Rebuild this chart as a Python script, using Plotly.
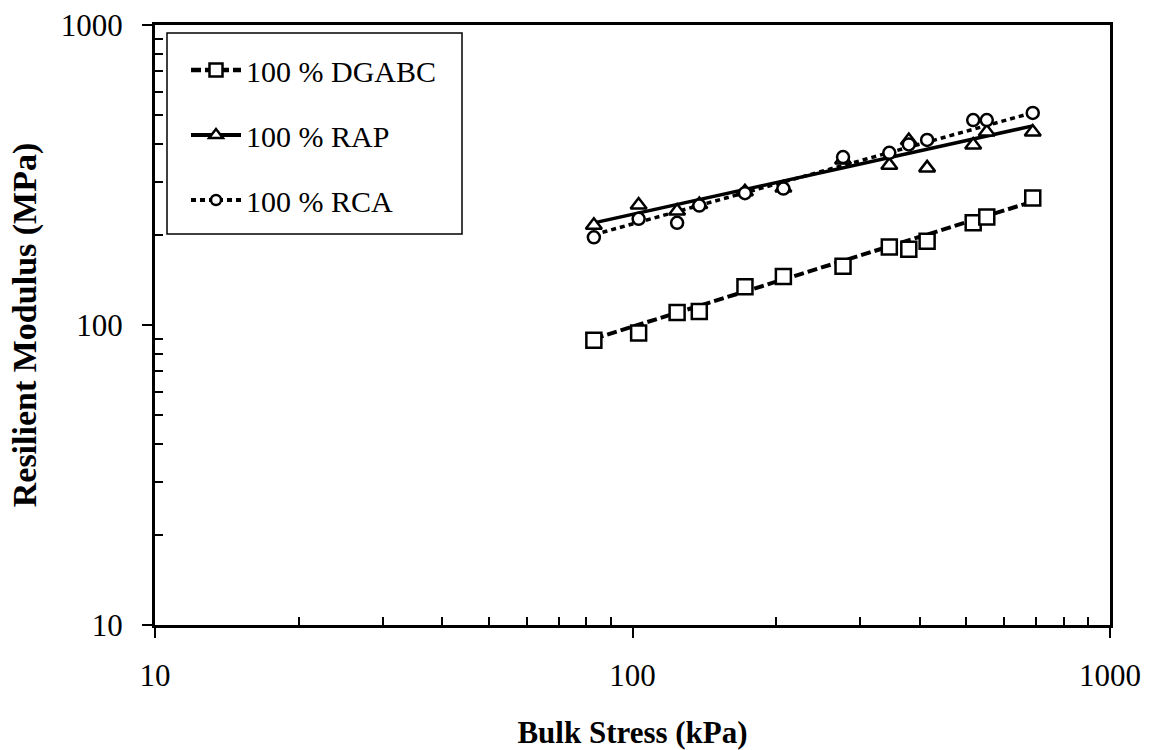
import plotly.graph_objects as go

# Bulk stress (kPa)
bulk_stress = [83, 103, 124, 138, 172, 207, 276, 345, 379, 414, 517, 552, 689]

# Resilient modulus (MPa)
mr_dgabc = [89, 94, 110, 111, 134, 145, 157, 182, 179, 190, 219, 229, 265]
mr_rap = [215, 251, 240, 252, 278, 286, 355, 341, 412, 334, 398, 440, 440]
mr_rca = [196, 226, 219, 250, 275, 285, 363, 375, 400, 414, 482, 482, 509]

# Power-law trend lines (end points)
fit_x = [83, 689]
fit_dgabc = [90, 258]
fit_rap = [219, 461]
fit_rca = [200, 510]

series_names = ["100 % DGABC", "100 % RAP", "100 % RCA"]

x_tickvals = [10, 100, 1000]
y_tickvals = [10, 100, 1000]
minor_vals = [20, 30, 40, 50, 60, 70, 80, 90, 200, 300, 400, 500, 600, 700, 800, 900]

FONT = "Liberation Serif"

styles = [
    dict(dash="10px,4px", width=4, symbol="square", size=15),
    dict(dash="solid", width=3.5, symbol="triangle-up", size=14),
    dict(dash="5px,4px", width=3.5, symbol="circle", size=12),
]
ys = [mr_dgabc, mr_rap, mr_rca]
fits = [fit_dgabc, fit_rap, fit_rca]

fig = go.Figure()

# trend lines
for name, fy, st in zip(series_names, fits, styles):
    fig.add_trace(go.Scatter(
        x=fit_x, y=fy, mode="lines", showlegend=False,
        line=dict(color="black", width=st["width"], dash=st["dash"]),
        hoverinfo="skip"))

# data markers
for name, yv, st in zip(series_names, ys, styles):
    fig.add_trace(go.Scatter(
        x=bulk_stress, y=yv, mode="markers", showlegend=False, name=name,
        marker=dict(symbol=st["symbol"], size=st["size"], color="white",
                    line=dict(color="black", width=2.5))))

# legend entries
for i, (name, st) in enumerate(zip(series_names, styles)):
    fig.add_trace(go.Scatter(
        x=[None], y=[None], mode="lines+markers", name=name,
        legendgroup=f"g{i}",
        line=dict(color="black", width=st["width"] + 0.5, dash=st["dash"]),
        marker=dict(symbol=st["symbol"], size=st["size"] - 2, color="white",
                    line=dict(color="black", width=2.5))))

axis_common = dict(
    type="log",
    showgrid=False,
    zeroline=False,
    showline=True,
    linecolor="black",
    linewidth=3,
    mirror=True,
    automargin=False,
    ticks="outside",
    ticklen=10,
    tickwidth=2,
    tickcolor="black",
    tickfont=dict(family=FONT, size=31, color="black"),
    minor=dict(ticks="inside", ticklen=8, tickwidth=1.5, tickcolor="black",
               tickmode="array", tickvals=minor_vals, showgrid=False),
)

fig.update_xaxes(
    **axis_common,
    range=[1, 3],
    tickmode="array",
    tickvals=x_tickvals,
    ticktext=[str(v) for v in x_tickvals],
    ticklabelstandoff=11,
    title=dict(text="<b>Bulk Stress (kPa)</b>",
               font=dict(family=FONT, size=31, color="black"), standoff=31),
)
fig.update_yaxes(
    **axis_common,
    range=[1, 3],
    tickmode="array",
    tickvals=y_tickvals,
    ticktext=[str(v) for v in y_tickvals],
    ticklabelstandoff=13,
    title=dict(text="<b>Resilient Modulus (MPa)</b>",
               font=dict(family=FONT, size=34, color="black"), standoff=14),
)

# legend frame (drawn as a rectangle in paper coordinates)
fig.add_shape(type="rect", xref="paper", yref="paper",
              x0=(167 - 155) / 955, x1=(462 - 155) / 955,
              y0=1 - (234 - 25) / 600, y1=1 - (33 - 25) / 600,
              line=dict(color="black", width=1.5), fillcolor="white", layer="below")

fig.update_layout(
    width=1151,
    height=750,
    margin=dict(l=155, r=41, t=25, b=125),
    paper_bgcolor="white",
    plot_bgcolor="white",
    font=dict(family=FONT, color="black"),
    legend=dict(
        x=(186 - 155) / 955, y=1 - (44 - 25) / 600, xanchor="left", yanchor="top",
        bgcolor="rgba(0,0,0,0)", borderwidth=0,
        font=dict(family=FONT, size=30, color="black"),
        tracegroupgap=23,
        itemwidth=50,
    ),
)

fig.write_html("out.html")
